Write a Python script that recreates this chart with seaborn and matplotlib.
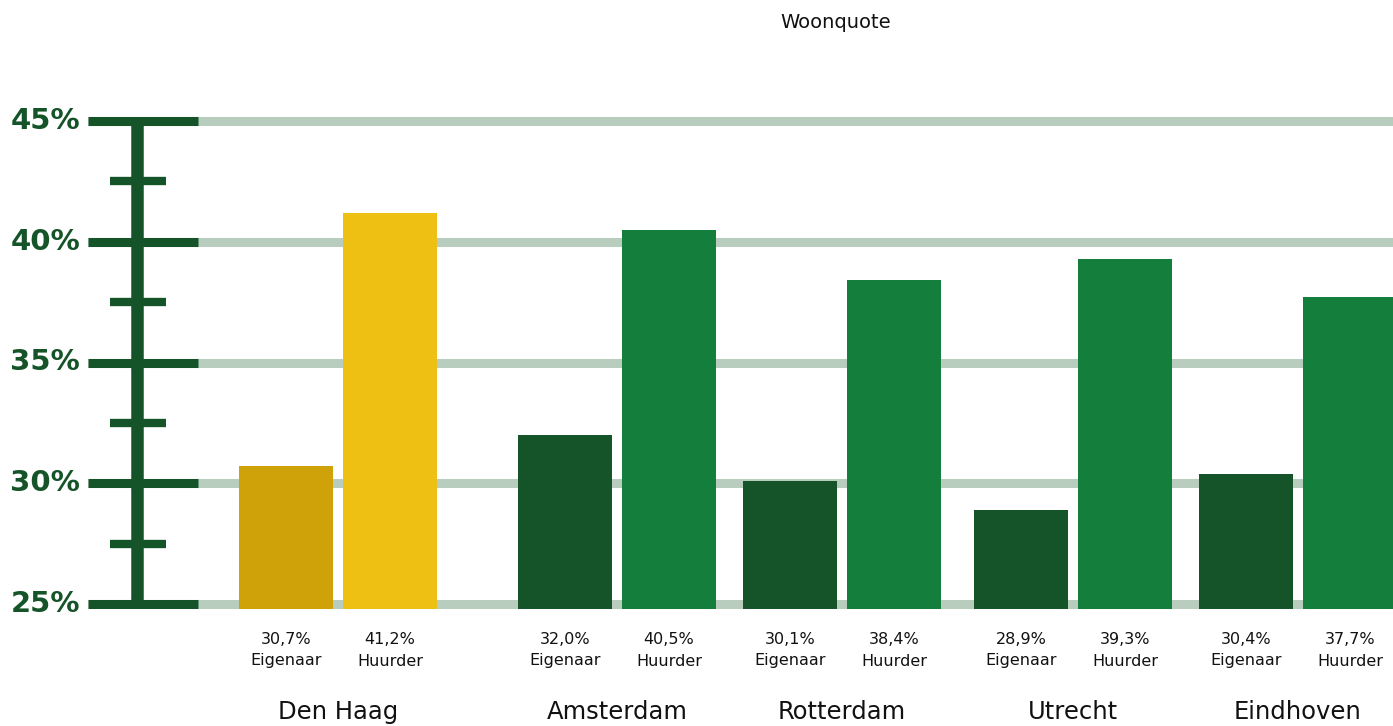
import pandas as pd
import matplotlib
matplotlib.use("Agg")
import matplotlib.pyplot as plt
import matplotlib.transforms as mtransforms
import seaborn as sns

# data
steden = ["Den Haag", "Amsterdam", "Rotterdam", "Utrecht", "Eindhoven"]
eigenaar = [30.7, 32.0, 30.1, 28.9, 30.4]
huurder = [41.2, 40.5, 38.4, 39.3, 37.7]
typen = ["Eigenaar", "Huurder"]
yticks = [25, 30, 35, 40, 45]
ytick_labels = ["25%", "30%", "35%", "40%", "45%"]
minor_ticks = [27.5, 32.5, 37.5, 42.5]

# layout (x in pixel-like units of the figure width)
W, H = 1393, 726
group_x = [338, 617, 842, 1073, 1298]
offset = 52

dark = "#155429"
palette = {"DH-Eigenaar": "#CFA20A", "DH-Huurder": "#EEC013",
           "Eigenaar": "#155429", "Huurder": "#147F3C"}

rows = []
for i, stad in enumerate(steden):
    for t, vals in zip(typen, [eigenaar, huurder]):
        pos = group_x[i] - offset if t == "Eigenaar" else group_x[i] + offset
        kleur = ("DH-" if stad == "Den Haag" else "") + t
        rows.append({"stad": stad, "type": t, "pos": pos, "waarde": vals[i], "kleur": kleur})
df = pd.DataFrame(rows)

sns.set_style("white")
plt.rcParams['font.family'] = ['DejaVu Sans']

fig = plt.figure(figsize=(W / 100, H / 100), dpi=100)
ax = fig.add_axes([0, 1 - 609 / H, 1, (609 - 100) / H])

px = (604 - 121) / 20.0

sns.barplot(data=df, x="pos", y="waarde", hue="kleur", palette=palette,
            native_scale=True, dodge=False, width=94 / 104, legend=False,
            saturation=1, linewidth=0, ax=ax, zorder=2)
ax.set_xlim(0, W)
ax.set_ylim(25 - 5 / px, 45 + 21 / px)

# grid lines and custom axis
for v in yticks:
    ax.axhline(v, xmin=88 / W, xmax=1, color="#B9CDBF", lw=6.5, zorder=1,
               solid_capstyle="butt")
ax.hlines(yticks, 88, 198, color=dark, lw=6.5, zorder=3)
ax.hlines(minor_ticks, 110, 166, color=dark, lw=6, zorder=3)
ax.vlines(137, 25 - 4.5 / px, 45 + 4.5 / px, color=dark, lw=9, zorder=3)

for v, lab in zip(yticks, ytick_labels):
    ax.text(80, v, lab, ha="right", va="center", fontsize=21,
            fontweight="bold", color=dark)

ax.axis("off")

# labels under the bars
trans = mtransforms.blended_transform_factory(ax.transData, fig.transFigure)
for _, r in df.iterrows():
    ax.text(r["pos"], 1 - 640 / H, f"{r['waarde']:.1f}%".replace(".", ","),
            transform=trans, ha="center", va="center", fontsize=11.5, color="#111111")
    ax.text(r["pos"], 1 - 661 / H, r["type"], transform=trans,
            ha="center", va="center", fontsize=11.5, color="#111111")
for gx, stad in zip(group_x, steden):
    ax.text(gx, 1 - 712 / H, stad, transform=trans, ha="center", va="center",
            fontsize=17.5, color="#111111")

fig.text(836 / W, 1 - 22 / H, "Woonquote", ha="center", va="center",
         fontsize=14, color="#111111")

fig.savefig("out.png", dpi=100)
